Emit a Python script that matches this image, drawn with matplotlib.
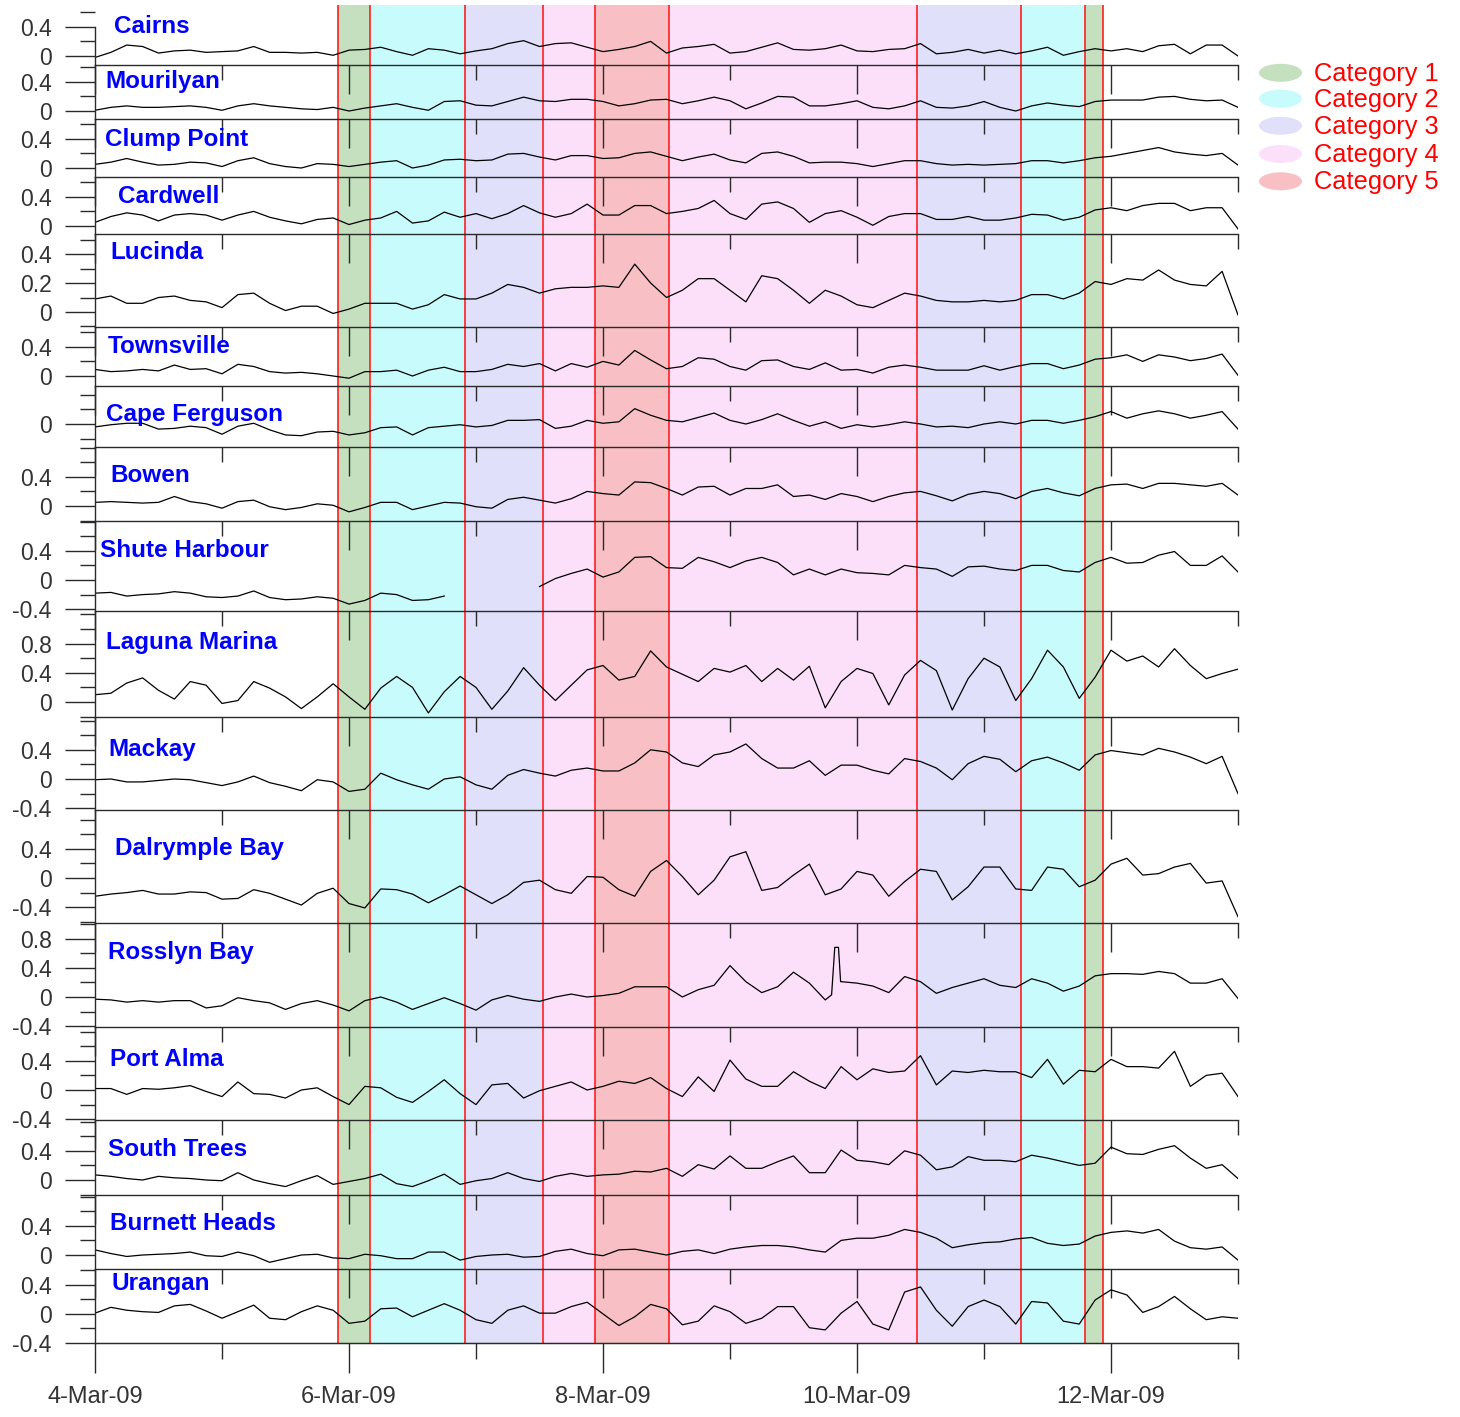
import numpy as np
import matplotlib
matplotlib.use('Agg')
import matplotlib.pyplot as plt
from matplotlib.patches import Ellipse

plt.rcParams['font.family'] = ['Liberation Sans', 'DejaVu Sans']

nan = np.nan

# sea level residual (m), 3-hourly from 4-Mar-09 00:00 to 13-Mar-09 00:00
hours = np.arange(0, 217, 3)

cairns = [-0.02, 0.05, 0.15, 0.13, 0.04, 0.07, 0.08, 0.05,
          0.06, 0.07, 0.13, 0.05, 0.05, 0.04, 0.05, 0.01,
          0.08, 0.09, 0.12, 0.06, 0.01, 0.10, 0.08, 0.03,
          0.07, 0.10, 0.17, 0.21, 0.13, 0.17, 0.18, 0.12,
          0.06, 0.09, 0.13, 0.20, 0.04, 0.11, 0.13, 0.16,
          0.04, 0.06, 0.12, 0.18, 0.09, 0.08, 0.10, 0.15,
          0.07, 0.06, 0.09, 0.10, 0.17, 0.03, 0.05, 0.09,
          0.04, 0.08, 0.03, 0.07, 0.12, 0.01, 0.06, 0.10,
          0.07, 0.10, 0.06, 0.14, 0.16, 0.03, 0.15, 0.15,
          0.00]
mourilyan = [0.01, 0.05, 0.07, 0.05, 0.05, 0.06, 0.07, 0.05,
             0.01, 0.07, 0.10, 0.07, 0.05, 0.03, 0.02, 0.05,
             0.00, 0.04, 0.07, 0.10, 0.05, 0.01, 0.13, 0.14,
             0.08, 0.07, 0.13, 0.19, 0.14, 0.13, 0.16, 0.16,
             0.13, 0.07, 0.10, 0.15, 0.16, 0.10, 0.14, 0.19,
             0.14, 0.03, 0.11, 0.20, 0.19, 0.07, 0.07, 0.10,
             0.14, 0.05, 0.03, 0.07, 0.14, 0.05, 0.04, 0.07,
             0.13, 0.05, 0.00, 0.07, 0.11, 0.08, 0.06, 0.13,
             0.15, 0.15, 0.15, 0.19, 0.20, 0.16, 0.14, 0.15,
             0.05]
clump_point = [0.05, 0.08, 0.13, 0.08, 0.04, 0.05, 0.08, 0.07,
               0.02, 0.10, 0.14, 0.06, 0.02, 0.00, 0.06, 0.05,
               0.02, 0.05, 0.08, 0.10, 0.00, 0.04, 0.11, 0.12,
               0.10, 0.11, 0.19, 0.20, 0.15, 0.11, 0.17, 0.17,
               0.13, 0.14, 0.20, 0.22, 0.16, 0.10, 0.15, 0.19,
               0.11, 0.07, 0.20, 0.22, 0.16, 0.07, 0.08, 0.08,
               0.06, 0.02, 0.06, 0.10, 0.10, 0.06, 0.04, 0.05,
               0.04, 0.05, 0.06, 0.10, 0.10, 0.07, 0.10, 0.14,
               0.16, 0.20, 0.24, 0.28, 0.22, 0.19, 0.17, 0.20,
               0.04]
cardwell = [0.05, 0.13, 0.18, 0.15, 0.07, 0.15, 0.17, 0.15,
            0.08, 0.15, 0.20, 0.12, 0.07, 0.03, 0.09, 0.11,
            0.02, 0.08, 0.11, 0.20, 0.04, 0.07, 0.19, 0.12,
            0.17, 0.10, 0.17, 0.28, 0.18, 0.12, 0.17, 0.30,
            0.15, 0.15, 0.28, 0.28, 0.17, 0.20, 0.24, 0.35,
            0.17, 0.09, 0.30, 0.33, 0.24, 0.05, 0.17, 0.21,
            0.12, 0.01, 0.13, 0.17, 0.17, 0.09, 0.09, 0.13,
            0.08, 0.08, 0.11, 0.16, 0.15, 0.08, 0.12, 0.22,
            0.25, 0.21, 0.28, 0.31, 0.31, 0.21, 0.25, 0.25,
            -0.04]
lucinda = [0.09, 0.11, 0.06, 0.06, 0.10, 0.11, 0.08, 0.07,
           0.03, 0.12, 0.13, 0.06, 0.01, 0.04, 0.04, -0.01,
           0.02, 0.06, 0.06, 0.06, 0.02, 0.05, 0.12, 0.09,
           0.09, 0.13, 0.19, 0.17, 0.13, 0.16, 0.17, 0.17,
           0.18, 0.17, 0.33, 0.20, 0.10, 0.15, 0.23, 0.23,
           0.15, 0.07, 0.25, 0.23, 0.15, 0.06, 0.15, 0.11,
           0.05, 0.03, 0.08, 0.13, 0.11, 0.08, 0.07, 0.07,
           0.08, 0.07, 0.08, 0.12, 0.12, 0.09, 0.13, 0.21,
           0.19, 0.23, 0.22, 0.29, 0.22, 0.19, 0.18, 0.28,
           -0.02]
townsville = [0.09, 0.06, 0.07, 0.09, 0.07, 0.15, 0.09, 0.10,
              0.03, 0.16, 0.13, 0.06, 0.04, 0.05, 0.03, 0.00,
              -0.03, 0.06, 0.06, 0.08, 0.00, 0.08, 0.12, 0.06,
              0.06, 0.09, 0.16, 0.13, 0.17, 0.07, 0.17, 0.12,
              0.20, 0.15, 0.35, 0.22, 0.10, 0.13, 0.25, 0.23,
              0.13, 0.08, 0.21, 0.22, 0.13, 0.09, 0.18, 0.08,
              0.09, 0.04, 0.12, 0.15, 0.12, 0.08, 0.08, 0.08,
              0.14, 0.08, 0.13, 0.17, 0.17, 0.10, 0.15, 0.23,
              0.25, 0.29, 0.20, 0.29, 0.26, 0.21, 0.24, 0.30,
              0.01]
cape_ferguson = [-0.04, -0.01, 0.01, 0.01, -0.07, -0.06, -0.03, -0.05,
                 -0.14, -0.03, 0.01, -0.08, -0.15, -0.16, -0.11, -0.10,
                 -0.15, -0.12, -0.05, -0.04, -0.15, -0.05, -0.03, -0.01,
                 -0.04, -0.02, 0.05, 0.05, 0.06, -0.06, -0.03, 0.05,
                 0.01, 0.03, 0.21, 0.12, 0.05, 0.03, 0.09, 0.15,
                 0.05, 0.00, 0.06, 0.14, 0.05, -0.03, 0.03, -0.06,
                 -0.01, -0.04, -0.01, 0.03, 0.00, -0.04, -0.03, -0.05,
                 0.00, 0.03, 0.00, 0.05, 0.05, 0.01, 0.05, 0.10,
                 0.17, 0.08, 0.14, 0.18, 0.14, 0.08, 0.12, 0.17,
                 -0.07]
bowen = [0.05, 0.06, 0.05, 0.04, 0.05, 0.13, 0.06, 0.03,
         -0.03, 0.06, 0.08, -0.01, -0.05, -0.02, 0.03, 0.01,
         -0.08, -0.02, 0.05, 0.05, -0.05, 0.00, 0.05, 0.04,
         -0.01, -0.03, 0.09, 0.12, 0.08, 0.04, 0.10, 0.20,
         0.17, 0.15, 0.33, 0.32, 0.24, 0.15, 0.26, 0.27,
         0.15, 0.24, 0.24, 0.29, 0.13, 0.15, 0.09, 0.17,
         0.13, 0.06, 0.13, 0.18, 0.20, 0.14, 0.07, 0.16,
         0.20, 0.17, 0.10, 0.20, 0.24, 0.18, 0.14, 0.24,
         0.29, 0.30, 0.24, 0.31, 0.31, 0.29, 0.27, 0.31,
         0.15]
shute_harbour = [-0.18, -0.17, -0.22, -0.20, -0.19, -0.16, -0.18, -0.23,
                 -0.24, -0.22, -0.15, -0.24, -0.27, -0.26, -0.23, -0.25,
                 -0.33, -0.28, -0.18, -0.20, -0.28, -0.27, -0.22, nan,
                 nan, nan, nan, nan, -0.09, 0.02, 0.09, 0.15,
                 0.04, 0.11, 0.31, 0.32, 0.17, 0.16, 0.31, 0.25,
                 0.17, 0.26, 0.31, 0.24, 0.07, 0.15, 0.07, 0.15,
                 0.10, 0.09, 0.07, 0.20, 0.17, 0.15, 0.05, 0.18,
                 0.19, 0.15, 0.13, 0.20, 0.20, 0.13, 0.11, 0.24,
                 0.31, 0.23, 0.24, 0.34, 0.39, 0.20, 0.20, 0.33,
                 0.11]
laguna_marina = [0.10, 0.12, 0.26, 0.33, 0.16, 0.04, 0.28, 0.23,
                 -0.02, 0.02, 0.28, 0.19, 0.07, -0.09, 0.07, 0.25,
                 0.07, -0.10, 0.19, 0.35, 0.20, -0.15, 0.14, 0.35,
                 0.20, -0.10, 0.15, 0.47, 0.23, 0.02, 0.23, 0.44,
                 0.50, 0.30, 0.35, 0.70, 0.48, 0.38, 0.28, 0.46,
                 0.41, 0.50, 0.28, 0.46, 0.30, 0.49, -0.08, 0.28,
                 0.46, 0.39, -0.04, 0.37, 0.57, 0.43, -0.11, 0.32,
                 0.60, 0.48, 0.02, 0.32, 0.71, 0.48, 0.05, 0.34,
                 0.71, 0.56, 0.63, 0.48, 0.73, 0.50, 0.32, 0.39,
                 0.45]
mackay = [-0.01, 0.00, -0.04, -0.04, -0.02, 0.00, -0.01, -0.05,
          -0.09, -0.04, 0.04, -0.05, -0.10, -0.16, -0.01, -0.04,
          -0.17, -0.14, 0.08, -0.01, -0.08, -0.14, 0.00, 0.03,
          -0.08, -0.14, 0.05, 0.13, 0.08, 0.04, 0.12, 0.15,
          0.11, 0.11, 0.22, 0.40, 0.37, 0.22, 0.17, 0.33,
          0.37, 0.48, 0.28, 0.15, 0.15, 0.25, 0.05, 0.19,
          0.19, 0.12, 0.07, 0.28, 0.24, 0.15, -0.01, 0.21,
          0.31, 0.27, 0.10, 0.25, 0.30, 0.22, 0.12, 0.33,
          0.39, 0.36, 0.33, 0.42, 0.37, 0.30, 0.21, 0.31,
          -0.20]
dalrymple_bay = [-0.25, -0.22, -0.20, -0.17, -0.22, -0.22, -0.19, -0.20,
                 -0.29, -0.28, -0.16, -0.21, -0.29, -0.37, -0.21, -0.14,
                 -0.35, -0.41, -0.15, -0.16, -0.22, -0.34, -0.23, -0.11,
                 -0.23, -0.35, -0.23, -0.06, -0.03, -0.16, -0.21, 0.02,
                 0.01, -0.16, -0.25, 0.09, 0.24, 0.02, -0.23, -0.03,
                 0.29, 0.36, -0.17, -0.13, 0.04, 0.19, -0.23, -0.15,
                 0.09, 0.04, -0.25, -0.05, 0.12, 0.09, -0.30, -0.12,
                 0.15, 0.15, -0.15, -0.17, 0.15, 0.12, -0.12, -0.03,
                 0.19, 0.27, 0.04, 0.06, 0.15, 0.20, -0.07, -0.04,
                 -0.53]
rosslyn_bay = [-0.03, -0.04, -0.07, -0.05, -0.07, -0.05, -0.05, -0.15,
               -0.12, -0.01, -0.05, -0.08, -0.17, -0.09, -0.05, -0.11,
               -0.19, -0.05, 0.00, -0.07, -0.17, -0.09, -0.01, -0.09,
               -0.18, -0.04, 0.02, -0.03, -0.06, 0.00, 0.04, 0.00,
               0.02, 0.05, 0.14, 0.14, 0.14, 0.00, 0.10, 0.16,
               0.43, 0.21, 0.06, 0.14, 0.34, 0.19, -0.04, 0.21,
               0.19, 0.15, 0.06, 0.28, 0.21, 0.05, 0.13, 0.19,
               0.25, 0.16, 0.13, 0.25, 0.19, 0.08, 0.15, 0.29,
               0.32, 0.32, 0.31, 0.35, 0.32, 0.19, 0.19, 0.25,
               -0.02]
# short spike at Rosslyn Bay on 9-Mar (hours, m)
rosslyn_spike_h = [139.2, 139.8, 140.5, 140.9]
rosslyn_spike_v = [0.03, 0.68, 0.68, 0.21]
port_alma = [0.02, 0.02, -0.06, 0.02, 0.01, 0.03, 0.06, -0.02,
             -0.09, 0.11, -0.05, -0.06, -0.11, 0.00, 0.03, -0.09,
             -0.20, 0.05, 0.03, -0.10, -0.17, -0.02, 0.14, -0.05,
             -0.20, 0.07, 0.09, -0.11, -0.01, 0.05, 0.11, 0.00,
             0.05, 0.12, 0.09, 0.17, 0.02, -0.09, 0.18, -0.02,
             0.41, 0.15, 0.05, 0.05, 0.25, 0.12, 0.02, 0.32,
             0.14, 0.29, 0.24, 0.26, 0.47, 0.07, 0.26, 0.24,
             0.27, 0.25, 0.25, 0.17, 0.42, 0.08, 0.27, 0.25,
             0.42, 0.32, 0.32, 0.30, 0.53, 0.05, 0.20, 0.23,
             -0.09]
south_trees = [0.07, 0.05, 0.02, 0.00, 0.05, 0.03, 0.02, 0.00,
               -0.01, 0.10, 0.00, -0.05, -0.09, -0.01, 0.06, -0.06,
               -0.02, 0.02, 0.08, -0.05, -0.09, -0.01, 0.08, -0.06,
               -0.01, 0.02, 0.10, 0.02, -0.02, 0.05, 0.09, 0.05,
               0.07, 0.08, 0.12, 0.11, 0.16, 0.05, 0.21, 0.15,
               0.33, 0.16, 0.16, 0.25, 0.33, 0.10, 0.10, 0.41,
               0.27, 0.25, 0.21, 0.40, 0.34, 0.14, 0.18, 0.32,
               0.27, 0.27, 0.25, 0.34, 0.30, 0.25, 0.20, 0.23,
               0.45, 0.36, 0.35, 0.42, 0.47, 0.30, 0.16, 0.21,
               0.02]
burnett_heads = [0.07, 0.02, -0.02, 0.00, 0.01, 0.02, 0.04, -0.01,
                 -0.02, 0.04, -0.01, -0.10, -0.05, 0.00, 0.01, -0.04,
                 -0.05, 0.01, -0.01, -0.05, -0.05, 0.04, 0.04, -0.07,
                 -0.02, 0.00, 0.01, -0.03, -0.02, 0.05, 0.08, 0.02,
                 -0.01, 0.07, 0.08, 0.04, 0.00, 0.05, 0.07, 0.02,
                 0.08, 0.11, 0.13, 0.13, 0.11, 0.07, 0.04, 0.20,
                 0.23, 0.23, 0.27, 0.35, 0.31, 0.23, 0.10, 0.14,
                 0.17, 0.18, 0.22, 0.24, 0.16, 0.13, 0.15, 0.26,
                 0.31, 0.33, 0.30, 0.35, 0.19, 0.10, 0.08, 0.11,
                 -0.07]
urangan = [0.01, 0.09, 0.05, 0.03, 0.02, 0.11, 0.13, 0.04,
           -0.06, 0.03, 0.12, -0.06, -0.08, 0.03, 0.11, 0.05,
           -0.13, -0.10, 0.07, 0.08, -0.04, 0.05, 0.14, 0.05,
           -0.08, -0.13, 0.05, 0.11, 0.01, 0.01, 0.10, 0.16,
           0.00, -0.16, -0.04, 0.13, 0.07, -0.15, -0.10, 0.11,
           0.03, -0.13, -0.06, 0.10, 0.10, -0.19, -0.22, 0.01,
           0.17, -0.14, -0.22, 0.30, 0.37, 0.05, -0.17, 0.10,
           0.19, 0.10, -0.14, 0.17, 0.15, -0.10, -0.14, 0.19,
           0.33, 0.26, 0.02, 0.10, 0.24, 0.07, -0.08, -0.04,
           -0.06]

stations = ['Cairns', 'Mourilyan', 'Clump Point', 'Cardwell', 'Lucinda',
            'Townsville', 'Cape Ferguson', 'Bowen', 'Shute Harbour',
            'Laguna Marina', 'Mackay', 'Dalrymple Bay', 'Rosslyn Bay',
            'Port Alma', 'South Trees', 'Burnett Heads', 'Urangan']
series = [cairns, mourilyan, clump_point, cardwell, lucinda, townsville,
          cape_ferguson, bowen, shute_harbour, laguna_marina, mackay,
          dalrymple_bay, rosslyn_bay, port_alma, south_trees,
          burnett_heads, urangan]
ytick_vals = [[0, 0.4], [0, 0.4], [0, 0.4], [0, 0.4], [0, 0.2, 0.4],
              [0, 0.4], [0], [0, 0.4], [-0.4, 0, 0.4], [0, 0.4, 0.8],
              [-0.4, 0, 0.4], [-0.4, 0, 0.4], [-0.4, 0, 0.4, 0.8],
              [-0.4, 0, 0.4], [0, 0.4], [0, 0.4], [-0.4, 0, 0.4]]

# storm category periods (hours from 4-Mar-09 00:00)
band_edges = [46, 52, 70, 84.6, 94.5, 108.5, 155.3, 175, 187.1, 190.4]
band_cats = [1, 2, 3, 4, 5, 4, 3, 2, 1]
cat_names = ['Category 1', 'Category 2', 'Category 3', 'Category 4', 'Category 5']
cat_colors = ['#c5e0be', '#c8fcfc', '#e0e0fa', '#fce0fa', '#f8c0c4']

date_ticks = [0, 48, 96, 144, 192]
date_labels = ['4-Mar-09', '6-Mar-09', '8-Mar-09', '10-Mar-09', '12-Mar-09']
odd_days = [24, 72, 120, 168, 216]

# ---- layout (pixels)
W, H = 1460, 1417
X0, X1 = 95, 1238
panel_px = [(5, 65, 56), (65, 119, 111), (119, 177, 168), (177, 234, 226),
            (234, 327, 312), (327, 386, 376), (386, 447, 424), (447, 521, 506),
            (521, 611, 580), (611, 717, 702), (717, 810, 779), (810, 923, 878),
            (923, 1027, 997), (1027, 1120, 1090), (1120, 1195, 1180),
            (1195, 1269, 1255), (1269, 1343, 1314)]
label_px = [(114, 33), (105, 88), (105, 146), (118, 203), (110, 259),
            (108, 353), (106, 421), (110, 482), (100, 557), (106, 649),
            (108, 756), (115, 855), (108, 959), (110, 1066), (108, 1156),
            (110, 1230), (111, 1290)]

ink = '#2a2a2a'
txt = '#333333'


def fx(px):
    return px / W


def fy(py):
    return 1 - py / H


fig = plt.figure(figsize=(W / 100, H / 100), dpi=100)

# category shading behind all panels
bg = fig.add_axes([fx(X0), fy(1343), (X1 - X0) / W, (1343 - 5) / H])
bg.set_xlim(0, 216)
bg.set_ylim(0, 1)
bg.axis('off')
for k, c in enumerate(band_cats):
    bg.axvspan(band_edges[k], band_edges[k + 1], color=cat_colors[c - 1], lw=0)
for e in band_edges:
    bg.axvline(e, color='#ff1f1f', lw=1.2)

n = len(stations)
for i, name in enumerate(stations):
    top, bot, zero = panel_px[i]
    scale = 145.0 if name == 'Lucinda' else 73.0
    lo, hi = -(bot - zero) / scale, (zero - top) / scale
    ax = fig.add_axes([fx(X0), fy(bot), (X1 - X0) / W, (bot - top) / H])
    ax.patch.set_visible(False)
    ax.set_xlim(0, 216)
    ax.set_ylim(lo, hi)

    x = hours.astype(float)
    y = np.array(series[i], dtype=float)
    if name == 'Rosslyn Bay':
        x = np.concatenate([x, rosslyn_spike_h])
        y = np.concatenate([y, rosslyn_spike_v])
        order = np.argsort(x)
        x, y = x[order], y[order]
    ax.plot(x, y, color='black', lw=0.9)

    for s in ax.spines.values():
        s.set_color(ink)
        s.set_linewidth(1.0)
    ax.spines['right'].set_visible(False)
    ax.spines['bottom'].set_visible(i == n - 1)
    if i == 0:
        ax.spines['top'].set_visible(False)
        ax.spines['left'].set_bounds(lo, 0.4)

    # y ticks
    major = ytick_vals[i]
    step = 0.1 if name == 'Lucinda' else 0.2
    cand = np.arange(np.ceil(lo / step) * step, hi, step)
    minor = [v for v in cand if all(abs(v - m) > 1e-6 for m in major)]
    ax.set_yticks(major)
    ax.set_yticklabels([f'{v:g}' for v in major])
    ax.set_yticks(minor, minor=True)
    ax.tick_params(axis='y', which='major', length=21.6, width=1.0, color=ink,
                   labelsize=16.5, labelcolor=txt, pad=9.5)
    ax.tick_params(axis='y', which='minor', length=10.8, width=1.0, color=ink)

    # day ticks along the top of each panel
    if i == 0:
        ax.set_xticks([])
        ax.tick_params(axis='x', which='both', top=False, bottom=False,
                       labelbottom=False)
    else:
        ax.xaxis.set_ticks_position('top')
        ax.set_xticks(date_ticks)
        ax.set_xticks(odd_days, minor=True)
        ax.tick_params(axis='x', which='major', direction='in', length=20.9,
                       width=1.0, color=ink, labeltop=False, labelbottom=False)
        ax.tick_params(axis='x', which='minor', direction='in', length=10.8,
                       width=1.0, color=ink)

    if i == n - 1:
        sec = ax.secondary_xaxis('bottom')
        sec.set_xticks(date_ticks)
        sec.set_xticklabels(date_labels)
        sec.set_xticks(odd_days, minor=True)
        sec.tick_params(axis='x', which='major', direction='out', length=21.6,
                        width=1.0, color=ink, labelsize=17, labelcolor=txt,
                        pad=9.5)
        sec.tick_params(axis='x', which='minor', direction='out', length=11.5,
                        width=1.0, color=ink)
        sec.spines['bottom'].set_color(ink)

    lx, ly = label_px[i]
    fig.text(fx(lx), fy(ly), name, color='#0000ff', fontsize=17.5,
             fontweight='bold', ha='left', va='baseline')

# legend
ov = fig.add_axes([0, 0, 1, 1])
ov.set_xlim(0, W)
ov.set_ylim(H, 0)
ov.axis('off')
leg_rows = [(72.8, 80.7), (98.7, 106.7), (125.8, 134.0), (154.0, 162.0), (181.3, 189.3)]
for k, (yc, yb) in enumerate(leg_rows):
    ov.add_patch(Ellipse((1280.5, yc), 43, 18, facecolor=cat_colors[k], edgecolor='none'))
    ov.text(1314, yb, cat_names[k], color='#ff0000', fontsize=18.3,
            ha='left', va='baseline')

fig.savefig('out.png', dpi=100)
